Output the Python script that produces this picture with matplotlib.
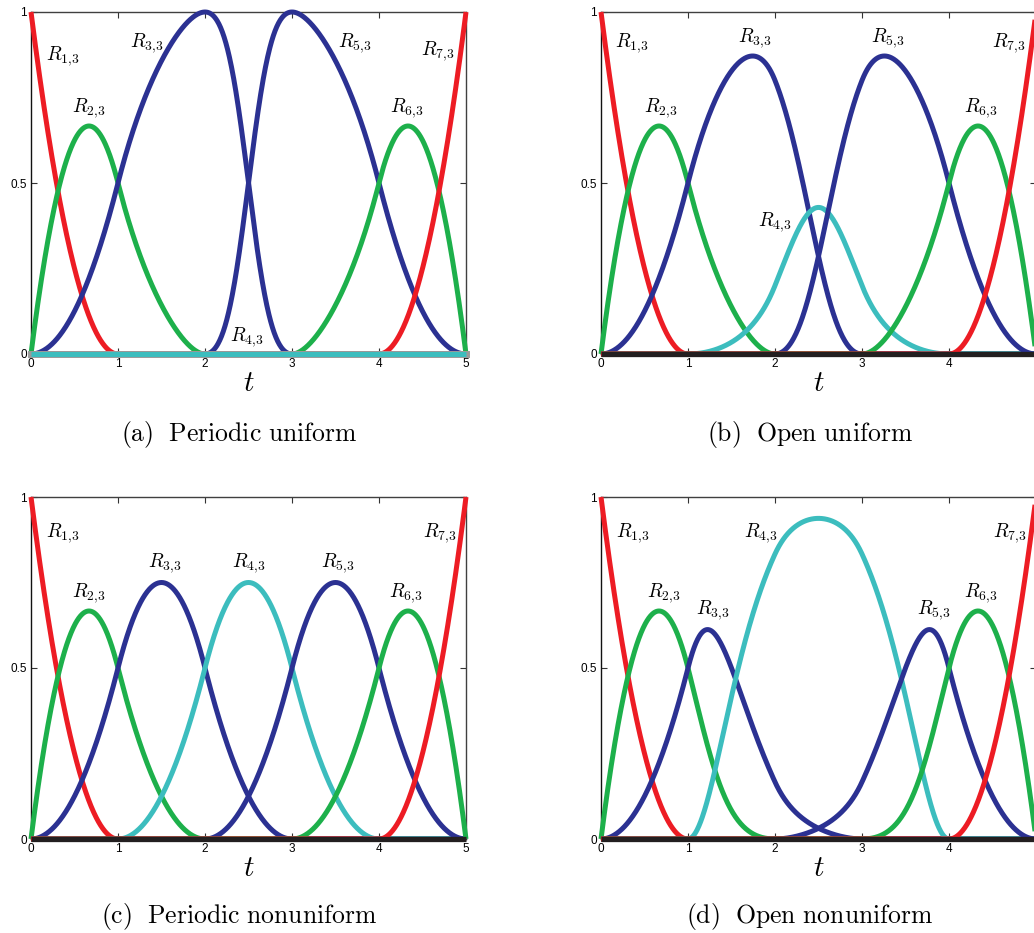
import matplotlib
matplotlib.use("Agg")
import matplotlib.pyplot as plt
import numpy as np

plt.rcParams['mathtext.fontset'] = 'cm'

# Vecteur nodal commun et poids h4 de chaque panneau
knots = [0, 0, 0, 1, 2, 3, 4, 5, 5, 5]
weights_a = [1, 1, 1, 0, 1, 1, 1]
weights_b = [1, 1, 1, 0.25, 1, 1, 1]
weights_c = [1, 1, 1, 1, 1, 1, 1]
weights_d = [1, 1, 1, 5, 1, 1, 1]
order = 3

panel_tags = ['(a)', '(b)', '(c)', '(d)']
captions = ['Periodic uniform', 'Open uniform', 'Periodic nonuniform', 'Open nonuniform']

curve_colors = ['#ED1C24', '#1DB04B', '#2B3192', '#3CBDBE', '#2B3192', '#1DB04B', '#ED1C24']
x_ticks = [0, 1, 2, 3, 4, 5]
y_ticks = [0, 0.5, 1]
y_ticklabels = ['0', '0.5', '1']

# positions des étiquettes R_{i,3} (t, valeur)
label_pos_a = [(0.36, 0.87), (0.66, 0.72), (1.33, 0.91), (2.48, 0.05), (3.72, 0.91), (4.32, 0.72), (4.68, 0.885)]
label_pos_b = [(0.35, 0.91), (0.69, 0.72), (1.77, 0.925), (2.0, 0.385), (3.3, 0.925), (4.36, 0.72), (4.69, 0.91)]
label_pos_c = [(0.37, 0.895), (0.66, 0.72), (1.54, 0.807), (2.5, 0.807), (3.53, 0.807), (4.31, 0.72), (4.7, 0.895)]
label_pos_d = [(0.36, 0.895), (0.72, 0.72), (1.28, 0.67), (1.84, 0.895), (3.82, 0.67), (4.36, 0.72), (4.7, 0.895)]


# Fonctions de base B-spline (Cox - de Boor) puis rationnelles
def bspline_basis(t, knots, k):
    knots = np.asarray(knots, dtype=float)
    n_int = len(knots) - 1
    N = np.zeros((n_int, len(t)))
    last = max(i for i in range(n_int) if knots[i] < knots[i + 1])
    for i in range(n_int):
        if knots[i] < knots[i + 1]:
            if i == last:
                N[i] = (t >= knots[i]) & (t <= knots[i + 1])
            else:
                N[i] = (t >= knots[i]) & (t < knots[i + 1])
    for kk in range(2, k + 1):
        Nn = np.zeros((n_int - kk + 1, len(t)))
        for i in range(n_int - kk + 1):
            d1 = knots[i + kk - 1] - knots[i]
            d2 = knots[i + kk] - knots[i + 1]
            a = (t - knots[i]) / d1 * N[i] if d1 > 0 else 0
            b = (knots[i + kk] - t) / d2 * N[i + 1] if d2 > 0 else 0
            Nn[i] = a + b
        N = Nn
    return N


def rational_basis(t, knots, weights, k):
    N = bspline_basis(t, knots, k)
    w = np.asarray(weights, dtype=float)[:, None]
    return w * N / np.sum(w * N, axis=0)


W, H = 1034, 933
fig = plt.figure(figsize=(W / 100, H / 100), dpi=100)


def px(x0, y0, x1, y1):
    return [x0 / W, 1 - y1 / H, (x1 - x0) / W, (y1 - y0) / H]


panels = [
    (weights_a, label_pos_a, 0, (31, 12), 435),
    (weights_b, label_pos_b, 1, (601, 12), 435),
    (weights_c, label_pos_c, 2, (31, 497), 916),
    (weights_d, label_pos_d, 3, (601, 497), 916),
]

t = np.linspace(0, 5, 1001)

for weights, lpos, k, (x0, y0), cap_y in panels:
    ax = fig.add_axes(px(x0, y0, x0 + 435, y0 + 342))
    R = rational_basis(t, knots, weights, order)
    for i in range(len(weights)):
        z = 3
        if weights[i] == 0:
            # R4 nulle partout : on la voit sur l'axe
            ax.plot(t, R[i], color='#9A9A9A', lw=5.0, zorder=4.5, clip_on=False)
            z = 5
        ax.plot(t, R[i], color=curve_colors[i], lw=3.6, zorder=z, clip_on=False,
                solid_capstyle='butt')
        tx, ty = lpos[i]
        ax.text(tx, ty, r'$R_{%d{,}3}$' % (i + 1), fontsize=14, ha='center', va='center', zorder=6)
    if min(weights) > 0:
        ax.plot([0, 5], [0, 0], color='#231F20', lw=3.8, zorder=5, clip_on=False,
                solid_capstyle='butt')

    ax.set_xlim(0, 5)
    ax.set_ylim(0, 1)
    ax.set_xticks(x_ticks)
    xl = [str(v) for v in x_ticks]
    if x0 > 500:
        xl[-1] = ''  # hors de l'image dans la figure d'origine
    ax.set_xticklabels(xl)
    ax.set_yticks(y_ticks)
    ax.set_yticklabels(y_ticklabels)
    ax.tick_params(direction='in', length=4, width=0.8, top=True, right=True,
                   labelsize=8.5, pad=3, color='#333333')
    for lab in ax.get_xticklabels() + ax.get_yticklabels():
        lab.set_fontfamily('Liberation Sans')
    for s in ax.spines.values():
        s.set_color('#404040')
        s.set_linewidth(1.0)
    ax.spines['left'].set_color('#111111')

    cx = (x0 + 217.5) / W
    fig.text(cx, 1 - (y0 + 371) / H, r'$t$', fontsize=21, ha='center', va='center')
    cap = r'$\mathrm{%s}\ \ \mathrm{%s}$' % (panel_tags[k], captions[k].replace(' ', r'\ '))
    fig.text(cx - 9 / W, 1 - cap_y / H, cap, fontsize=18.5, ha='center', va='center')

fig.savefig('out.png', dpi=100)
plt.close('all')
